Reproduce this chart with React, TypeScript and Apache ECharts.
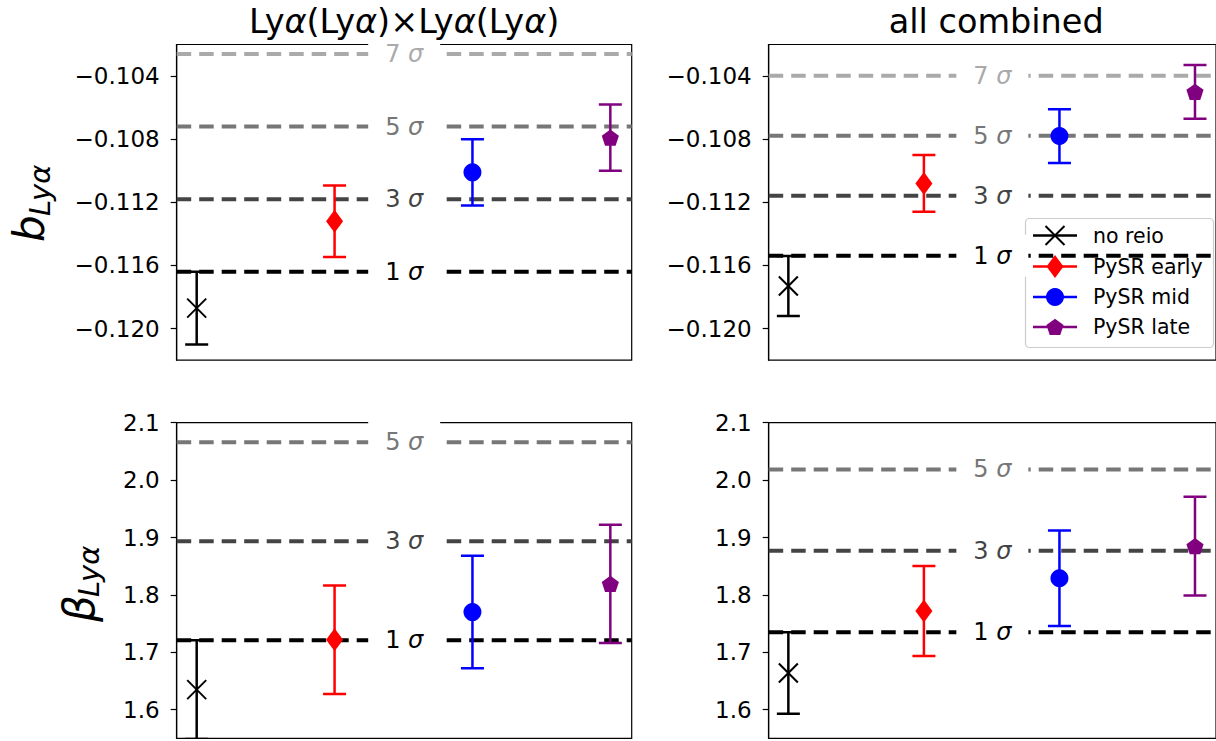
import React, { useEffect, useRef } from "react";
import * as echarts from "echarts";

// ---------- data ----------
const groups = ["no reio", "PySR early", "PySR mid", "PySR late"];
const groupColors = ["#000000", "#ff0000", "#0000ff", "#800080"];
const groupMarkers = ["x", "thinDiamond", "circle", "pentagon"];

const panelTitles = ["Ly{a|α}(Ly{a|α})×Ly{a|α}(Ly{a|α})", "all combined"];

// b_Lya, Lya(Lya) x Lya(Lya)
const bAutoValues = [-0.1187, -0.1132, -0.1101, -0.1079];
const bAutoErrors = [0.0023, 0.00227, 0.0021, 0.0021];
// b_Lya, all combined
const bAllValues = [-0.1173, -0.1108, -0.1078, -0.105];
const bAllErrors = [0.0019, 0.0018, 0.0017, 0.0017];
// beta_Lya, Lya(Lya) x Lya(Lya)
const betaAutoValues = [1.635, 1.722, 1.77, 1.819];
const betaAutoErrors = [0.0862, 0.0945, 0.098, 0.103];
// beta_Lya, all combined
const betaAllValues = [1.664, 1.772, 1.829, 1.885];
const betaAllErrors = [0.0709, 0.0785, 0.083, 0.086];

const sigmaLevels = [1, 3, 5, 7];
const sigmaColors = ["#000000", "#444444", "#777777", "#aaaaaa"];
const bAutoSigma = [-0.1164, -0.1118, -0.1072, -0.1026];
const bAllSigma = [-0.11538, -0.11158, -0.10778, -0.10398];
const betaAutoSigma = [1.7212, 1.8936, 2.066];
const betaAllSigma = [1.7349, 1.8767, 2.0185];

const bTicks = [-0.12, -0.116, -0.112, -0.108, -0.104];
const betaTicks = [1.6, 1.7, 1.8, 1.9, 2.0, 2.1];
const bRange = [-0.122, -0.102];
const betaRange = [1.55, 2.1];
const xRange = [-0.145, 3.155];

const FONT = "DejaVu Sans";

// ---------- layout ----------
const panels = [
  { left: 176.7, top: 44.5, values: bAutoValues, errors: bAutoErrors, sigma: bAutoSigma, ticks: bTicks, range: bRange, digits: 3 },
  { left: 768.7, top: 44.5, values: bAllValues, errors: bAllErrors, sigma: bAllSigma, ticks: bTicks, range: bRange, digits: 3 },
  { left: 176.7, top: 422.7, values: betaAutoValues, errors: betaAutoErrors, sigma: betaAutoSigma, ticks: betaTicks, range: betaRange, digits: 1 },
  { left: 768.7, top: 422.7, values: betaAllValues, errors: betaAllErrors, sigma: betaAllSigma, ticks: betaTicks, range: betaRange, digits: 1 },
];
const PW = 455;
const PH = 315.7;

function markerEls(kind: string, cx: number, cy: number, color: string): any[] {
  if (kind === "x") {
    const s = 9.5;
    return [
      { type: "line", shape: { x1: cx - s, y1: cy - s, x2: cx + s, y2: cy + s }, style: { stroke: color, lineWidth: 2 } },
      { type: "line", shape: { x1: cx - s, y1: cy + s, x2: cx + s, y2: cy - s }, style: { stroke: color, lineWidth: 2 } },
    ];
  }
  if (kind === "thinDiamond") {
    return [
      {
        type: "polygon",
        shape: { points: [[cx, cy - 11.5], [cx + 8.5, cy], [cx, cy + 11.5], [cx - 8.5, cy]] },
        style: { fill: color },
      },
    ];
  }
  if (kind === "circle") {
    return [{ type: "circle", shape: { cx, cy, r: 9 }, style: { fill: color } }];
  }
  const R = 9;
  const pts: number[][] = [];
  for (let k = 0; k < 5; k++) {
    const a = -Math.PI / 2 + (k * 2 * Math.PI) / 5;
    pts.push([cx + R * Math.cos(a), cy + R * Math.sin(a) + 0.8]);
  }
  return [{ type: "polygon", shape: { points: pts }, style: { fill: color } }];
}

function sigmaRender(params: any, api: any) {
  const lvl = api.value(0);
  const v = api.value(1);
  const cs = params.coordSys;
  const y = api.coord([0, v])[1];
  const cx = cs.x + cs.width / 2;
  const color = sigmaColors[lvl];
  return {
    type: "group",
    children: [
      {
        type: "line",
        shape: { x1: cs.x, y1: y, x2: cs.x + cs.width, y2: y },
        style: { stroke: color, lineWidth: 4, lineDash: [14.5, 8] },
      },
      { type: "rect", shape: { x: cx - 36, y: y - 21, width: 72, height: 42 }, style: { fill: "#ffffff" } },
      {
        type: "text",
        x: cx,
        y: y,
        style: {
          text: `{n|${sigmaLevels[lvl]}} {s|σ}`,
          rich: {
            n: { fontSize: 24, fontFamily: FONT, fill: color },
            s: { fontSize: 24, fontFamily: FONT, fontStyle: "italic", fill: color },
          },
          fontSize: 24,
          fontFamily: FONT,
          fill: color,
          align: "center",
          verticalAlign: "middle",
        },
      },
    ],
  };
}

function pointRender(params: any, api: any) {
  const i = api.value(0);
  const v = api.value(1);
  const e = api.value(2);
  const c = api.coord([i, v]);
  const t = api.coord([i, v + e]);
  const b = api.coord([i, v - e]);
  const color = groupColors[i];
  const cap = 11.5;
  return {
    type: "group",
    children: [
      { type: "line", shape: { x1: c[0], y1: t[1], x2: c[0], y2: b[1] }, style: { stroke: color, lineWidth: 2.5 } },
      { type: "line", shape: { x1: c[0] - cap, y1: t[1], x2: c[0] + cap, y2: t[1] }, style: { stroke: color, lineWidth: 2.5 } },
      { type: "line", shape: { x1: c[0] - cap, y1: b[1], x2: c[0] + cap, y2: b[1] }, style: { stroke: color, lineWidth: 2.5 } },
      ...markerEls(groupMarkers[i], c[0], c[1], color),
    ],
  };
}

function fmt(digits: number) {
  return (v: number) => (v < 0 ? "\u2212" : "") + Math.abs(v).toFixed(digits);
}

export default function App() {
  const ref = useRef<HTMLDivElement>(null);
  useEffect(() => {
    if (!ref.current) return;
    const chart = echarts.init(ref.current, undefined, { renderer: "svg" });

    const grid = panels.map((p) => ({
      left: p.left,
      top: p.top,
      width: PW,
      height: PH,
      show: true,
      borderColor: "#000",
      borderWidth: 1.2,
      backgroundColor: "transparent",
      containLabel: false,
    }));
    const xAxis = panels.map((_, k) => ({
      type: "value",
      gridIndex: k,
      min: xRange[0],
      max: xRange[1],
      show: false,
    }));
    const yAxis = panels.map((p, k) => ({
      type: "value",
      gridIndex: k,
      min: p.range[0],
      max: p.range[1],
      splitLine: { show: false },
      axisLine: { show: true, onZero: false, lineStyle: { color: "#000", width: 1.2 } },
      axisTick: { show: true, customValues: p.ticks, length: 6, lineStyle: { color: "#000", width: 1.2 } },
      axisLabel: {
        customValues: p.ticks,
        formatter: fmt(p.digits),
        fontSize: 23,
        fontFamily: FONT,
        color: "#000",
        margin: 17,
      },
    }));
    const series: any[] = [];
    panels.forEach((p, k) => {
      series.push({
        type: "custom",
        xAxisIndex: k,
        yAxisIndex: k,
        silent: true,
        z: 3,
        renderItem: sigmaRender,
        data: p.sigma.map((v, lvl) => [lvl, v]),
        encode: { x: -1, y: 1 },
      });
      series.push({
        type: "custom",
        xAxisIndex: k,
        yAxisIndex: k,
        silent: true,
        clip: true,
        z: 4,
        renderItem: pointRender,
        data: p.values.map((v, i) => [i, v, p.errors[i]]),
        encode: { x: 0, y: 1 },
      });
    });

    const graphic: any[] = [];
    // titles
    [0, 1].forEach((k) => {
      graphic.push({
        type: "text",
        x: panels[k].left + PW / 2,
        y: 21,
        z: 10,
        style: {
          text: panelTitles[k],
          rich: { a: { fontSize: 33.5, fontFamily: FONT, fontStyle: "italic", fill: "#000" } },
          fontSize: 33.5,
          fontFamily: FONT,
          fill: "#000",
          align: "center",
          verticalAlign: "middle",
        },
      });
    });
    // y axis labels
    const yLabels = [
      { main: "b", mainX: 29, mainY: 242, subX: 40, subY: 216 },
      { main: "β", mainX: 79, mainY: 622, subX: 89, subY: 597 },
    ];
    yLabels.forEach((l) => {
      graphic.push({
        type: "text",
        x: l.mainX,
        y: l.mainY,
        rotation: Math.PI / 2,
        z: 10,
        style: { text: l.main, fontSize: 42, fontStyle: "italic", fontFamily: FONT, fill: "#000", align: "left", verticalAlign: "middle" },
      });
      graphic.push({
        type: "text",
        x: l.subX,
        y: l.subY,
        rotation: Math.PI / 2,
        z: 10,
        style: { text: "Lyα", fontSize: 29, fontStyle: "italic", fontFamily: FONT, fill: "#000", align: "left", verticalAlign: "middle" },
      });
    });
    // legend
    const legendChildren: any[] = [
      {
        type: "rect",
        shape: { x: 1025.5, y: 218.5, width: 188, height: 129, r: 4 },
        style: { fill: "rgba(255,255,255,0.8)", stroke: "#cccccc", lineWidth: 1.2 },
      },
    ];
    const rowY = [235.5, 266.5, 297, 327];
    groups.forEach((g, i) => {
      legendChildren.push({
        type: "line",
        shape: { x1: 1033, y1: rowY[i], x2: 1077, y2: rowY[i] },
        style: { stroke: groupColors[i], lineWidth: 2.5 },
      });
      legendChildren.push(...markerEls(groupMarkers[i], 1055, rowY[i], groupColors[i]));
      legendChildren.push({
        type: "text",
        x: 1093,
        y: rowY[i],
        style: { text: g, fontSize: 20.5, fontFamily: FONT, fill: "#000", align: "left", verticalAlign: "middle" },
      });
    });
    graphic.push({ type: "group", z: 20, children: legendChildren });

    chart.setOption({
      animation: false,
      backgroundColor: "#ffffff",
      grid,
      xAxis,
      yAxis,
      series,
      graphic,
    });
    return () => chart.dispose();
  }, []);
  return (
    <div
      ref={ref}
      style={{ position: "absolute", left: 0, top: 0, width: 1216, height: 741, background: "#fff" }}
    />
  );
}
